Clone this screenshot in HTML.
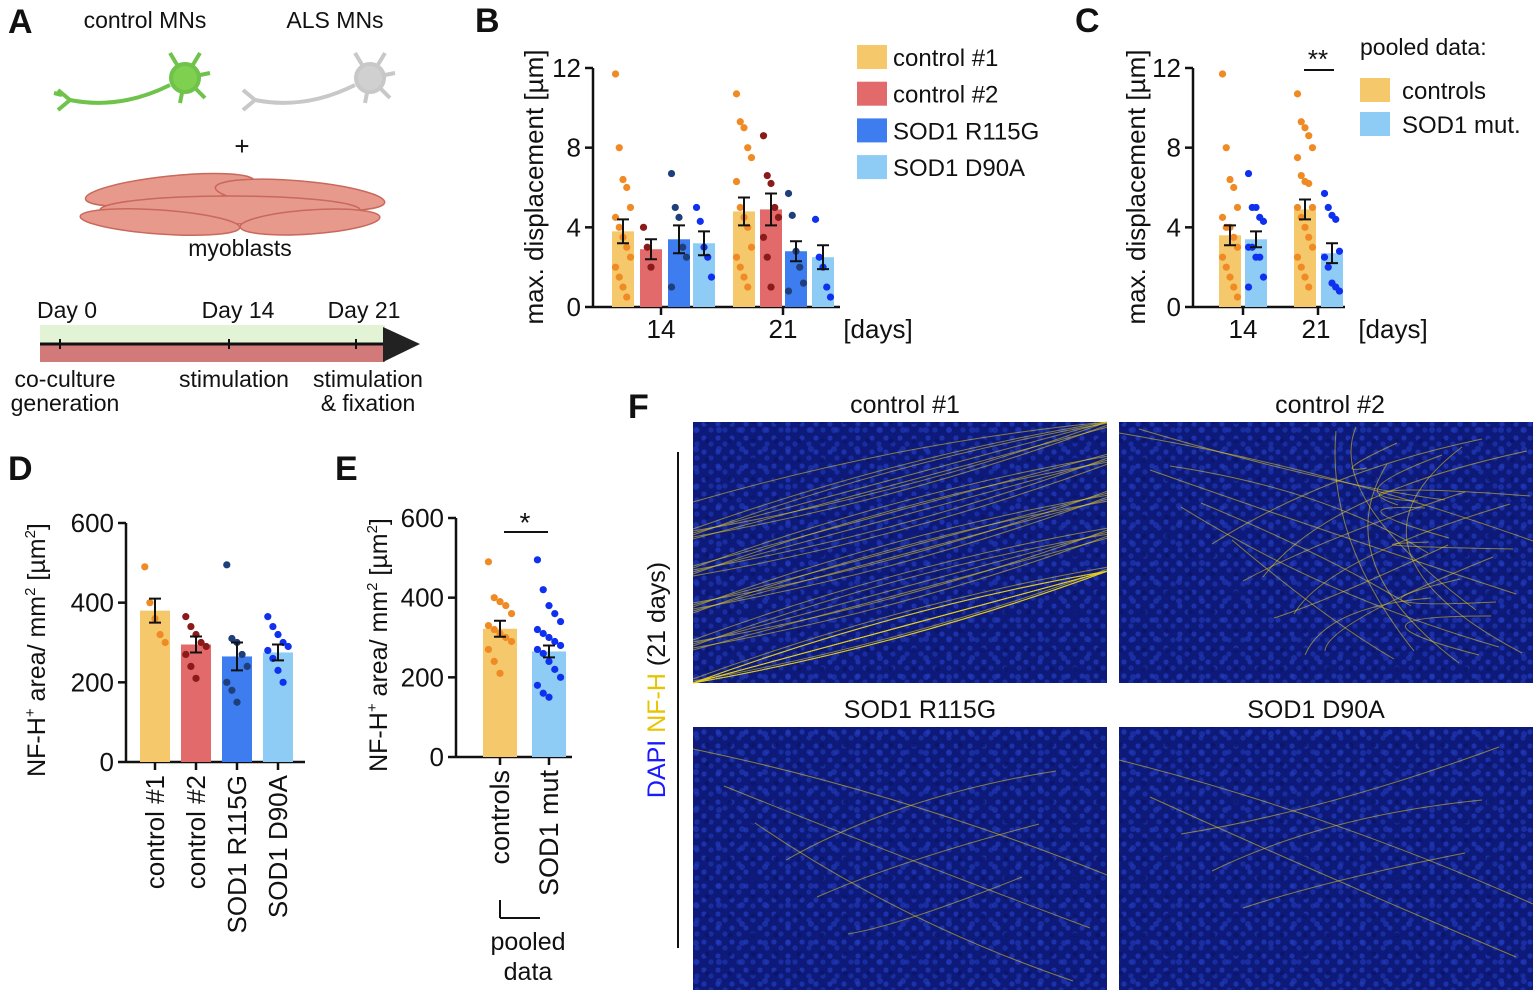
<!DOCTYPE html>
<html><head><meta charset="utf-8"><style>
body{margin:0;background:#fff}
svg text{font-family:"Liberation Sans",Arial,sans-serif;fill:#111}
</style></head><body>
<svg id="fig" width="1537" height="993" viewBox="0 0 1537 993" xmlns="http://www.w3.org/2000/svg">
<defs>
<pattern id="nuc" width="14" height="14" patternUnits="userSpaceOnUse">
<rect width="14" height="14" fill="#101e7e"/><circle cx="4" cy="4" r="2.6" fill="#2540c8"/><circle cx="11" cy="10" r="2.6" fill="#2038b8"/>
</pattern>
<pattern id="nuc2" width="23" height="19" patternUnits="userSpaceOnUse">
<circle cx="6" cy="12" r="3" fill="#2d4ce0" opacity="0.6"/><circle cx="17" cy="4" r="2.5" fill="#0a1260" opacity="0.7"/>
</pattern>
</defs>
<!-- Panel A -->
<g>
<text x="8" y="33" font-size="34" font-weight="bold">A</text>
<text x="145" y="28" font-size="23" text-anchor="middle">control MNs</text>
<text x="335" y="28" font-size="23" text-anchor="middle">ALS MNs</text>
<g stroke="#6fc24a" stroke-width="4" fill="none">
<path d="M70 100 Q120 110 170 85"/><path d="M70 100 l-12 -10 M70 100 l-12 10 M62 95 l-8 -2"/>
<path d="M185 78 l-15 -25 M185 78 l15 -25 M185 78 l25 -5 M185 78 l20 20 M185 78 l-5 25"/>
<circle cx="185" cy="78" r="14" fill="#7fd04f"/>
</g>
<g stroke="#c8c8c8" stroke-width="4" fill="none">
<path d="M255 100 Q305 110 355 85"/><path d="M255 100 l-12 -10 M255 100 l-12 10"/>
<path d="M370 78 l-15 -25 M370 78 l15 -25 M370 78 l25 -5 M370 78 l20 20 M370 78 l-5 25"/>
<circle cx="370" cy="78" r="14" fill="#d0d0d0"/>
</g>
<text x="242" y="155" font-size="26" text-anchor="middle">+</text>
<g fill="#e79a8c" stroke="#c9685c" stroke-width="1.5">
<ellipse cx="170" cy="190" rx="85" ry="14" transform="rotate(-6 170 190)"/>
<ellipse cx="300" cy="195" rx="85" ry="14" transform="rotate(5 300 195)"/>
<ellipse cx="230" cy="210" rx="130" ry="14"/>
<ellipse cx="160" cy="222" rx="80" ry="12" transform="rotate(4 160 222)"/>
<ellipse cx="310" cy="222" rx="70" ry="12" transform="rotate(-4 310 222)"/>
</g>
<text x="240" y="256" font-size="23" text-anchor="middle">myoblasts</text>
<text x="67" y="318" font-size="23" text-anchor="middle">Day 0</text>
<text x="238" y="318" font-size="23" text-anchor="middle">Day 14</text>
<text x="364" y="318" font-size="23" text-anchor="middle">Day 21</text>
<rect x="40" y="325" width="345" height="18" fill="#e3f3d6"/>
<rect x="40" y="345" width="345" height="17" fill="#d27a7a"/>
<line x1="40" y1="344" x2="385" y2="344" stroke="#111" stroke-width="3"/>
<polygon points="383,327 420,344 383,362" fill="#222"/>
<line x1="60" y1="339" x2="60" y2="349" stroke="#111" stroke-width="2"/><line x1="229" y1="339" x2="229" y2="349" stroke="#111" stroke-width="2"/><line x1="356" y1="339" x2="356" y2="349" stroke="#111" stroke-width="2"/>
<text x="65" y="387" font-size="23" text-anchor="middle">co-culture</text>
<text x="65" y="411" font-size="23" text-anchor="middle">generation</text>
<text x="234" y="387" font-size="23" text-anchor="middle">stimulation</text>
<text x="368" y="387" font-size="23" text-anchor="middle">stimulation</text>
<text x="368" y="411" font-size="23" text-anchor="middle">&amp; fixation</text>
</g>
<g id="charts"></g>
<!-- Panel F -->
<g id="panelF">
<text x="628" y="418" font-size="34" font-weight="bold">F</text>
<text x="905" y="413" font-size="25" text-anchor="middle">control #1</text>
<text x="1330" y="413" font-size="25" text-anchor="middle">control #2</text>
<text x="920" y="718" font-size="25" text-anchor="middle">SOD1 R115G</text>
<text x="1316" y="718" font-size="25" text-anchor="middle">SOD1 D90A</text>
<line x1="678" y1="452" x2="678" y2="948" stroke="#111" stroke-width="2"/>
<text transform="translate(665 680) rotate(-90)" font-size="25" text-anchor="middle"><tspan style="fill:#1a1aff">DAPI </tspan><tspan style="fill:#e8c400">NF-H</tspan><tspan> (21 days)</tspan></text>
</g>
</svg>
<script>
// ---- Panel B data ----
const bDays=["14","21"];
const bGroups=["control #1","control #2","SOD1 R115G","SOD1 D90A"];
const bMeans14=[3.8,2.9,3.4,3.2];
const bMeans21=[4.8,4.9,2.8,2.5];
const bSem14=[0.6,0.5,0.7,0.6];
const bSem21=[0.7,0.8,0.5,0.6];
const bPts14_c1=[11.7,8,6.4,6,5,4.5,4,3.5,3,2.5,2,1.5,1,0.5];
const bPts14_c2=[4,3,2];
const bPts14_r=[6.7,5,4.5,3,2.5,1];
const bPts14_d=[5,4.3,3,2.5,1.5];
const bPts21_c1=[10.7,9.3,9,8,7.5,6.3,5,4.5,4,3,2.5,2,1.5,1];
const bPts21_c2=[8.6,6.6,6.2,5,4.5,3.5,2.5,1];
const bPts21_r=[5.7,4.6,2.8,2,1.2,0.8];
const bPts21_d=[4.4,2.5,2,1,0.5];
const yTicksB=[0,4,8,12];
// ---- Panel C data ----
const cGroups=["controls","SOD1 mut."];
const cMeans14=[3.6,3.4];
const cMeans21=[4.9,2.7];
const cSem14=[0.5,0.4];
const cSem21=[0.5,0.5];
const cPts14_ctrl=[11.7,8,6.4,6,5,4.5,4,4,3.5,3,2.5,2,1.5,1,0.5];
const cPts14_sod=[6.7,5,5,4.5,4.3,3,3,2.5,2.5,1.5,1];
const cPts21_ctrl=[10.7,9.3,9,8.6,8,7.5,6.6,6.3,6.2,5,5,4.5,4,3.5,3,2.5,2,1.5,1];
const cPts21_sod=[5.7,5,4.6,4.4,2.8,2.5,2,1.2,1,0.8];
// ---- Panel D data ----
const dGroups=["control #1","control #2","SOD1 R115G","SOD1 D90A"];
const dMeans=[380,295,265,275];
const dSem=[30,20,35,20];
const dPts=[[490,400,360,320,300],[365,340,320,300,290,270,240,210],[495,310,300,270,240,200,180,150],[365,340,320,300,290,280,260,230,200]];
const yTicksD=[0,200,400,600];
// ---- Panel E data ----
const eGroups=["controls","SOD1 mut"];
const eMeans=[322,265];
const eSem=[20,15];
const ePts=[[490,400,390,380,360,330,320,310,300,290,270,240,210],[495,420,380,360,340,320,310,300,290,280,270,260,240,220,200,180,160,150]];

const NS="http://www.w3.org/2000/svg";
const root=document.getElementById('charts');
function mk(tag,attrs,parent){const e=document.createElementNS(NS,tag);for(const k in attrs)e.setAttribute(k,attrs[k]);(parent||root).appendChild(e);return e;}
function txt(x,y,s,size,anchor,parent,rot){const t=mk('text',{x:x,y:y,'font-size':size,'text-anchor':anchor||'middle'},parent);if(rot)t.setAttribute('transform',`rotate(${rot} ${x} ${y})`);t.textContent=s;return t;}
const cols=["#f5c96b","#e26a6a","#3d7df0","#8ecbf5"];
const dotCols=["#f08a24","#8b1a1a","#1f3f7a","#1030f0"];
function drawBar(g,cx,w,val,sem,y,fill,dots,dcol,name){
  const r=mk('rect',{x:cx-w/2,y:y(val),width:w,height:y(0)-y(val),fill:fill},g);
  
  
  dots.forEach((v,i)=>{const off=((i%5)-2)*w*0.17;
    const c=mk('circle',{cx:cx+off,cy:y(v),r:3.6,fill:dcol},g);
    
    });
  const eb=mk('path',{d:`M${cx} ${y(val+sem)}V${y(val-sem)}M${cx-6} ${y(val+sem)}h12M${cx-6} ${y(val-sem)}h12`,stroke:'#111','stroke-width':2,fill:'none'},g);
  
  
}
function yAxis(g,x0,y,ticks,xEnd){
  mk('line',{x1:x0,y1:y(ticks[ticks.length-1]),x2:x0,y2:y(0),stroke:'#111','stroke-width':2.5},g);
  mk('line',{x1:x0,y1:y(0),x2:xEnd,y2:y(0),stroke:'#111','stroke-width':2.5},g);
  ticks.forEach(t=>{mk('line',{x1:x0-8,y1:y(t),x2:x0,y2:y(t),stroke:'#111','stroke-width':2.5},g);
    const l=txt(x0-12,y(t)+9,String(t),26,'end',g);
    
    });
}
// ---- Panel B ----
{const g=mk('g',{});


const y=v=>307-v*(239/12);
txt(475,32,"B",34,'start',g).setAttribute('font-weight','bold');
yAxis(g,593,y,yTicksB,840);
const yl=txt(543,187,"max. displacement [µm]",26,'middle',g,-90);


const xs14=[623,651,679,704],xs21=[744,771,796,823];
const p14=[bPts14_c1,bPts14_c2,bPts14_r,bPts14_d],p21=[bPts21_c1,bPts21_c2,bPts21_r,bPts21_d];
for(let i=0;i<4;i++){drawBar(g,xs14[i],22,bMeans14[i],bSem14[i],y,cols[i],p14[i],dotCols[i],'b-day14-g'+i);
 drawBar(g,xs21[i],22,bMeans21[i],bSem21[i],y,cols[i],p21[i],dotCols[i],'b-day21-g'+i);}
mk('line',{x1:661,y1:307,x2:661,y2:315,stroke:'#111','stroke-width':2.5},g);
mk('line',{x1:783,y1:307,x2:783,y2:315,stroke:'#111','stroke-width':2.5},g);
txt(661,338,bDays[0],26,'middle',g);txt(783,338,bDays[1],26,'middle',g);
txt(878,338,"[days]",26,'middle',g);
bGroups.forEach((s,i)=>{const r=mk('rect',{x:857,y:45+i*36.7,width:30,height:24,fill:cols[i]},g);
 
 
 const t=txt(893,66+i*36.7,s,24,'start',g);
 
 });
}
// ---- Panel C ----
{const g=mk('g',{});


const y=v=>307-v*(239/12);
txt(1075,32,"C",34,'start',g).setAttribute('font-weight','bold');
yAxis(g,1193,y,yTicksB,1345);
const yl=txt(1145,187,"max. displacement [µm]",26,'middle',g,-90);


const cc=[cols[0],cols[3]],dc=[dotCols[0],dotCols[3]];
drawBar(g,1230,22,cMeans14[0],cSem14[0],y,cc[0],cPts14_ctrl,dc[0],'c-day14-controls');
drawBar(g,1256,22,cMeans14[1],cSem14[1],y,cc[1],cPts14_sod,dc[1],'c-day14-sod1');
drawBar(g,1305,22,cMeans21[0],cSem21[0],y,cc[0],cPts21_ctrl,dc[0],'c-day21-controls');
drawBar(g,1332,22,cMeans21[1],cSem21[1],y,cc[1],cPts21_sod,dc[1],'c-day21-sod1');
mk('line',{x1:1243,y1:307,x2:1243,y2:315,stroke:'#111','stroke-width':2.5},g);
mk('line',{x1:1318,y1:307,x2:1318,y2:315,stroke:'#111','stroke-width':2.5},g);
txt(1243,338,bDays[0],26,'middle',g);txt(1316,338,bDays[1],26,'middle',g);
txt(1393,338,"[days]",26,'middle',g);
mk('line',{x1:1304,y1:70,x2:1334,y2:70,stroke:'#111','stroke-width':2},g);
txt(1318,68,"**",26,'middle',g);
txt(1360,55,"pooled data:",23,'start',g);
cGroups.forEach((s,i)=>{const r=mk('rect',{x:1360,y:78+i*34,width:30,height:24,fill:cc[i]},g);
 
 
 const t=txt(1402,99+i*34,s,24,'start',g);
 
 });
}
// ---- Panel D ----
{const g=mk('g',{});


const y=v=>762-v*(239/600);
txt(8,480,"D",34,'start',g).setAttribute('font-weight','bold');
yAxis(g,126,y,yTicksD,305);
const yl=mk('text',{x:0,y:0,'font-size':25,'text-anchor':'middle',transform:'translate(45 650) rotate(-90)'},g);


yl.innerHTML='NF-H<tspan font-size="15" dy="-10">+</tspan><tspan dy="10"> area/ mm</tspan><tspan font-size="15" dy="-10">2</tspan><tspan dy="10"> [µm</tspan><tspan font-size="15" dy="-10">2</tspan><tspan dy="10">]</tspan>';
const xs=[155,196,237,278];
dGroups.forEach((s,i)=>{drawBar(g,xs[i],30,dMeans[i],dSem[i],y,cols[i],dPts[i],dotCols[i],'d-'+i);
 mk('line',{x1:xs[i],y1:762,x2:xs[i],y2:770,stroke:'#111','stroke-width':2.5},g);
 const t=txt(xs[i]+9,775,s,26,'end',g,-90);
 
 });
}
// ---- Panel E ----
{const g=mk('g',{});


const y=v=>757-v*(239/600);
txt(335,480,"E",34,'start',g).setAttribute('font-weight','bold');
yAxis(g,456,y,yTicksD,572);
const yl=mk('text',{x:0,y:0,'font-size':25,'text-anchor':'middle',transform:'translate(387 645) rotate(-90)'},g);


yl.innerHTML='NF-H<tspan font-size="15" dy="-10">+</tspan><tspan dy="10"> area/ mm</tspan><tspan font-size="15" dy="-10">2</tspan><tspan dy="10"> [µm</tspan><tspan font-size="15" dy="-10">2</tspan><tspan dy="10">]</tspan>';
const xs=[500,549],cc=[cols[0],cols[3]],dc=[dotCols[0],dotCols[3]];
eGroups.forEach((s,i)=>{drawBar(g,xs[i],34,eMeans[i],eSem[i],y,cc[i],ePts[i],dc[i],'e-'+i);
 mk('line',{x1:xs[i],y1:757,x2:xs[i],y2:765,stroke:'#111','stroke-width':2.5},g);
 const t=txt(xs[i]+9,770,s,27,'end',g,-90);
 
 });
mk('line',{x1:504,y1:532,x2:548,y2:532,stroke:'#111','stroke-width':2},g);
txt(525,532,"*",28,'middle',g);
mk('line',{x1:500,y1:918,x2:540,y2:918,stroke:'#111','stroke-width':2},g);
mk('line',{x1:500,y1:900,x2:500,y2:918,stroke:'#111','stroke-width':2},g);
txt(528,950,"pooled",25,'middle',g);txt(528,980,"data",25,'middle',g);
}
// ---- Panel F images (stylized micrographs) ----
const imgBoxes=[[693,422,414,261,40],[1119,422,414,261,25],[693,727,414,263,6],[1119,727,414,263,5]];
const fg=document.getElementById('panelF');
imgBoxes.forEach((b,k)=>{const g=mk('g',{},fg);
 
 
 mk('rect',{x:b[0],y:b[1],width:b[2],height:b[3],fill:'url(#nuc)'},g);
 mk('rect',{x:b[0],y:b[1],width:b[2],height:b[3],fill:'url(#nuc2)'},g);
 mk('rect',{x:b[0],y:b[1],width:b[2],height:b[3],fill:'#0a1470',opacity:0.3},g);
 for(let j=0;j<b[4];j++){const sy=b[1]+((j*37+k*11)%b[3]);const ey=b[1]+((j*53+k*29+90)%b[3]);
  const slope=k===0?-0.45:0;
  const y1=Math.min(b[1]+b[3],Math.max(b[1],sy+ (k===0?80:0)));
  const y2=Math.min(b[1]+b[3],Math.max(b[1],(k===0?y1+b[2]*slope*0.6:ey)));
  mk('path',{d:`M${b[0]+(k===0?0:(j*31)%b[2])} ${y1} Q${b[0]+b[2]/2} ${(y1+y2)/2+((j%3)-1)*20} ${b[0]+b[2]-(k===0?0:(j*17)%150)} ${y2}`,stroke:'#e8d020','stroke-width':1,fill:'none',opacity:0.55},g);}
});
</script>
</body></html>
